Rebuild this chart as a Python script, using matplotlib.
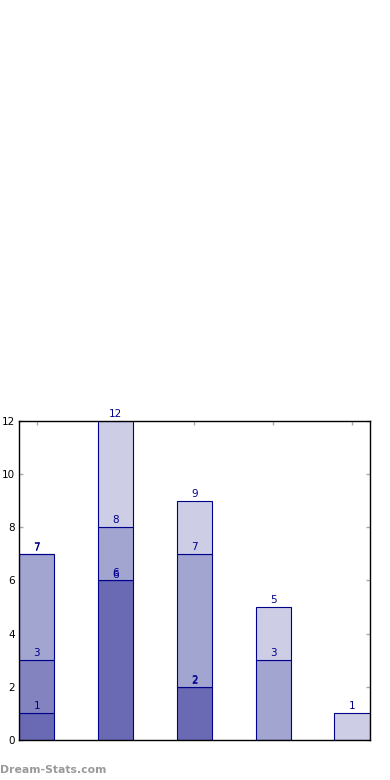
import matplotlib
matplotlib.use("Agg")
import matplotlib.pyplot as plt
import numpy as np

categories = ["A", "B", "C", "D", "E"]
series1 = [1, 6, 2, 0, 0]
series2 = [2, 0, 0, 0, 0]
series3 = [4, 2, 5, 3, 0]
series4 = [0, 4, 2, 2, 1]
colors = ["#6a6ab4", "#8383c0", "#a3a5d1", "#cdcee5"]
yticks = [0, 2, 4, 6, 8, 10, 12]

fig = plt.figure(figsize=(3.9, 7.8), dpi=100)
ax = fig.add_axes([0.0487, 0.0513, 0.9, 0.4090])

x = np.arange(len(categories))
w = 0.45
bottom = np.zeros(len(categories))
for si, (vals, c) in enumerate(zip([series1, series2, series3, series4], colors)):
    vals = np.array(vals, dtype=float)
    for i in range(len(x)):
        if bottom[i] + vals[i] == 0:
            continue
        ax.bar(x[i], vals[i], width=w, bottom=bottom[i], color=c,
               edgecolor="#00008b", linewidth=0.8, zorder=2)
    bottom = bottom + vals
    for i in range(len(x)):
        if bottom[i] == 0:
            continue
        off = 1.5 if vals[i] > 0 else 0.5
        ax.annotate(f"{int(bottom[i])}", (x[i], bottom[i]), xytext=(0, off),
                    textcoords="offset points", ha="center", va="bottom",
                    color="#00008b", fontsize=7.5, zorder=3)

ax.set_xlim(-0.225, 4.225)
ax.set_ylim(0, 12)
ax.set_yticks(yticks)
ax.set_xticks(x)
ax.set_xticklabels([])
ax.tick_params(axis="both", direction="in", color="#aaaaaa", length=3, width=1,
               top=True, right=True, labelsize=7.5, pad=3)
for sp in ax.spines.values():
    sp.set_linewidth(1.0)
    sp.set_color("black")

fig.text(0.0, 0.0125, "Dream-Stats.com", color="#9a9a9a", fontsize=7.8,
         fontweight="bold", ha="left", va="center")

fig.savefig("out.png", dpi=100)
